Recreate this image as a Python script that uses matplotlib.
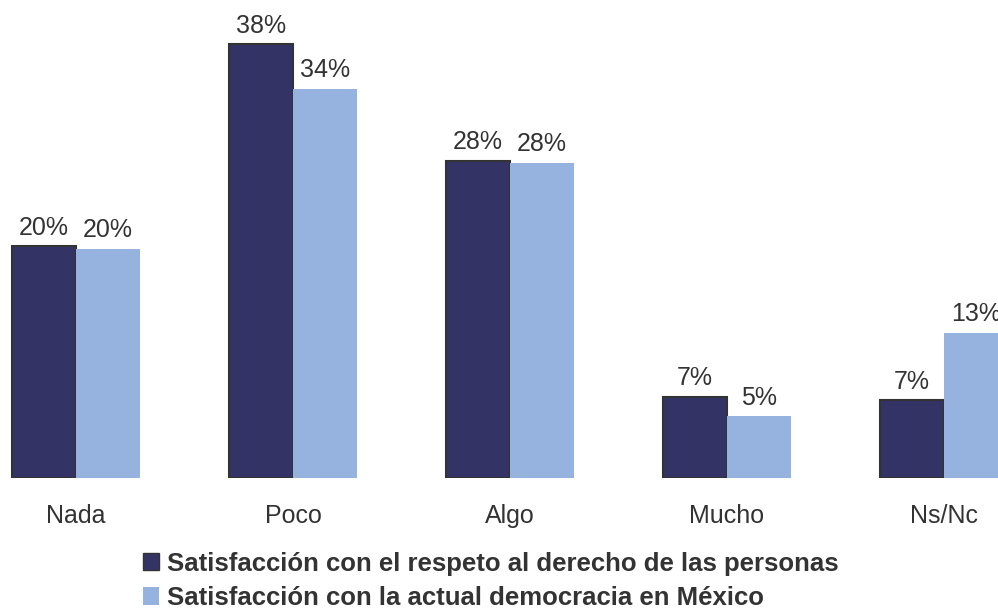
import matplotlib.pyplot as plt
import numpy as np
from matplotlib.patches import Patch

categories = ['Nada', 'Poco', 'Algo', 'Mucho', 'Ns/Nc']
respeto = [20.3, 38.0, 27.8, 7.1, 6.8]
democracia = [20.1, 34.1, 27.6, 5.4, 12.7]
series_names = ['Satisfacción con el respeto al derecho de las personas',
                'Satisfacción con la actual democracia en México']

dark = '#333366'
light = '#95B3DE'
text_color = '#333333'

plt.rcParams['font.family'] = ['Liberation Sans', 'DejaVu Sans']

fig = plt.figure(figsize=(9.98, 6.09), dpi=100)
ax = fig.add_axes([0, 0.215, 1, 0.785])

x = np.arange(len(categories))
w = 0.295
bars1 = ax.bar(x - w / 2, respeto, w, color=dark, edgecolor=text_color, linewidth=1.5)
bars2 = ax.bar(x + w / 2, democracia, w, color=light, edgecolor='none')

for bars, vals in [(bars1, respeto), (bars2, democracia)]:
    for b, v in zip(bars, vals):
        ax.annotate('{:.0f}%'.format(v), (b.get_x() + b.get_width() / 2, v),
                    xytext=(0, 5), textcoords='offset points',
                    ha='center', va='bottom', fontsize=18, color=text_color)

ax.set_xlim(-0.35, 4.249)
ax.set_ylim(0, 41.9)
ax.set_xticks(x)
ax.set_xticklabels(categories, fontsize=18, color=text_color)
ax.tick_params(axis='x', length=0, pad=19)
ax.set_yticks([])
for s in ax.spines.values():
    s.set_visible(False)

handles = [Patch(facecolor=dark, edgecolor=text_color), Patch(facecolor=light)]
leg = fig.legend(handles, series_names, loc='upper left',
                 bbox_to_anchor=(0.143, 0.094), frameon=False,
                 prop={'weight': 'bold', 'size': 18.5}, handlelength=0.65,
                 handleheight=0.65, handletextpad=0.3, labelspacing=0.4,
                 borderpad=0, borderaxespad=0)
for t in leg.get_texts():
    t.set_color(text_color)

fig.savefig('out.png', dpi=100)
